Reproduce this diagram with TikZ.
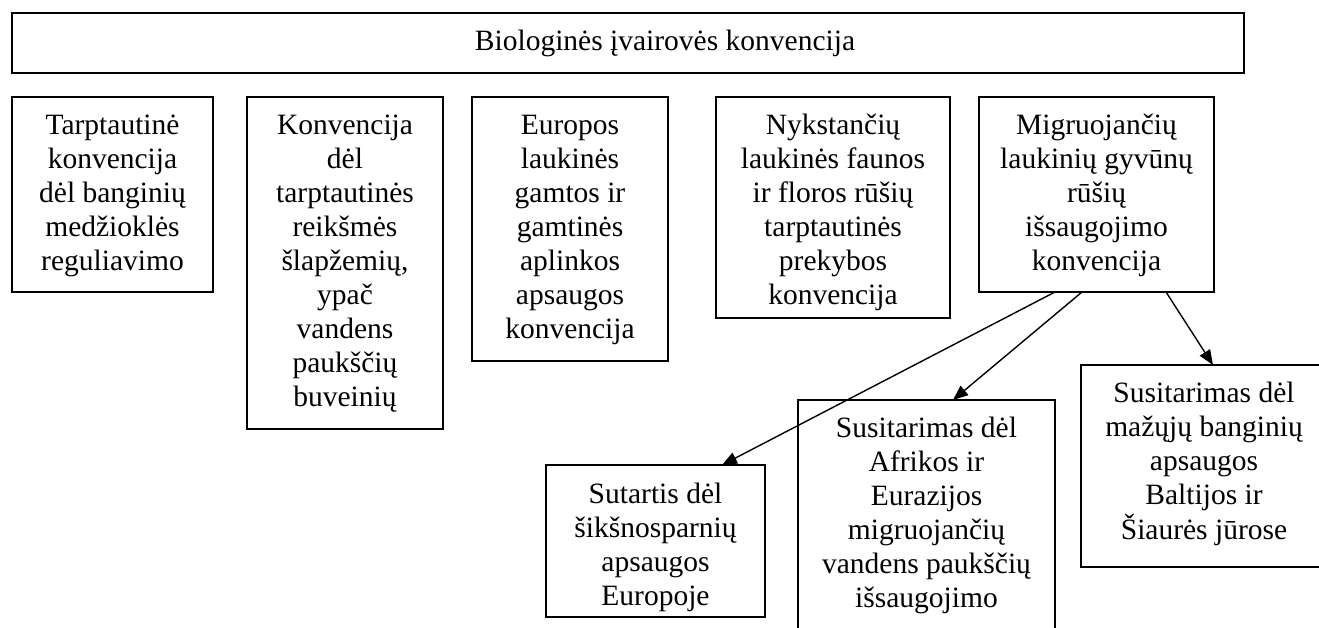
\documentclass[tikz,border=0pt]{standalone}
\usepackage{fontspec}
\setmainfont{Liberation Serif}
\usetikzlibrary{arrows.meta}
\newcommand\boxfont{\fontsize{29.5}{34}\selectfont}
\tikzset{
  box/.style={draw, line width=1.6pt, outer sep=0pt, inner sep=0pt, anchor=north west},
  txt/.style={anchor=base, inner sep=0pt, font=\boxfont},
  conn/.style={line width=1.4pt, -{Triangle[length=15pt,width=12pt]}}
}
\begin{document}
\begin{tikzpicture}[x=1pt,y=-1pt]
\useasboundingbox (0,0) rectangle (1319,628);
% top box
\node[box, minimum width=1232pt, minimum height=60pt] (top) at (12,13) {};
\node[txt] (ttop) at (665,51) {Biologinės įvairovės konvencija};
% boxes
\node[box, minimum width=201pt, minimum height=195pt] (b1) at (12,97) {};
\node[box, minimum width=196pt, minimum height=332pt] (b2) at (247,97) {};
\node[box, minimum width=196pt, minimum height=264pt] (b3) at (472,97) {};
\node[box, minimum width=234pt, minimum height=221pt] (b4) at (716,97) {};
\node[box, minimum width=235pt, minimum height=195pt] (b5) at (979,97) {};
\node[box, minimum width=219pt, minimum height=152pt] (b6) at (546,465) {};
\node[box, minimum width=257pt, minimum height=250pt] (b7) at (798,400) {};
\node[box, minimum width=250pt, minimum height=202pt] (b8) at (1081,365) {};
% texts
\node[txt] (t1) at (112.5,135) {\begin{tabular}[t]{@{}c@{}}Tarptautinė\\konvencija\\dėl banginių\\medžioklės\\reguliavimo\end{tabular}};
\node[txt] (t2) at (345,135) {\begin{tabular}[t]{@{}c@{}}Konvencija\\dėl\\tarptautinės\\reikšmės\\šlapžemių,\\ypač\\vandens\\paukščių\\buveinių\end{tabular}};
\node[txt] (t3) at (570,135) {\begin{tabular}[t]{@{}c@{}}Europos\\laukinės\\gamtos ir\\gamtinės\\aplinkos\\apsaugos\\konvencija\end{tabular}};
\node[txt] (t4) at (833,135) {\begin{tabular}[t]{@{}c@{}}Nykstančių\\laukinės faunos\\ir floros rūšių\\tarptautinės\\prekybos\\konvencija\end{tabular}};
\node[txt] (t5) at (1096.5,135) {\begin{tabular}[t]{@{}c@{}}Migruojančių\\laukinių gyvūnų\\rūšių\\išsaugojimo\\konvencija\end{tabular}};
\node[txt] (t6) at (655.5,503) {\begin{tabular}[t]{@{}c@{}}Sutartis dėl\\šikšnosparnių\\apsaugos\\Europoje\end{tabular}};
\node[txt] (t7) at (926.5,437) {\begin{tabular}[t]{@{}c@{}}Susitarimas dėl\\Afrikos ir\\Eurazijos\\migruojančių\\vandens paukščių\\išsaugojimo\end{tabular}};
\node[txt] (t8) at (1204,402) {\begin{tabular}[t]{@{}c@{}}Susitarimas dėl\\mažųjų banginių\\apsaugos\\Baltijos ir\\Šiaurės jūrose\end{tabular}};
% connectors
\draw[conn] ([xshift=76pt]b5.south west) -- ([xshift=176pt]b6.north west);
\draw[conn] ([xshift=103pt]b5.south west) -- ([xshift=155pt]b7.north west);
\draw[conn] ([xshift=187pt]b5.south west) -- ([xshift=132pt]b8.north west);
\end{tikzpicture}
\end{document}
